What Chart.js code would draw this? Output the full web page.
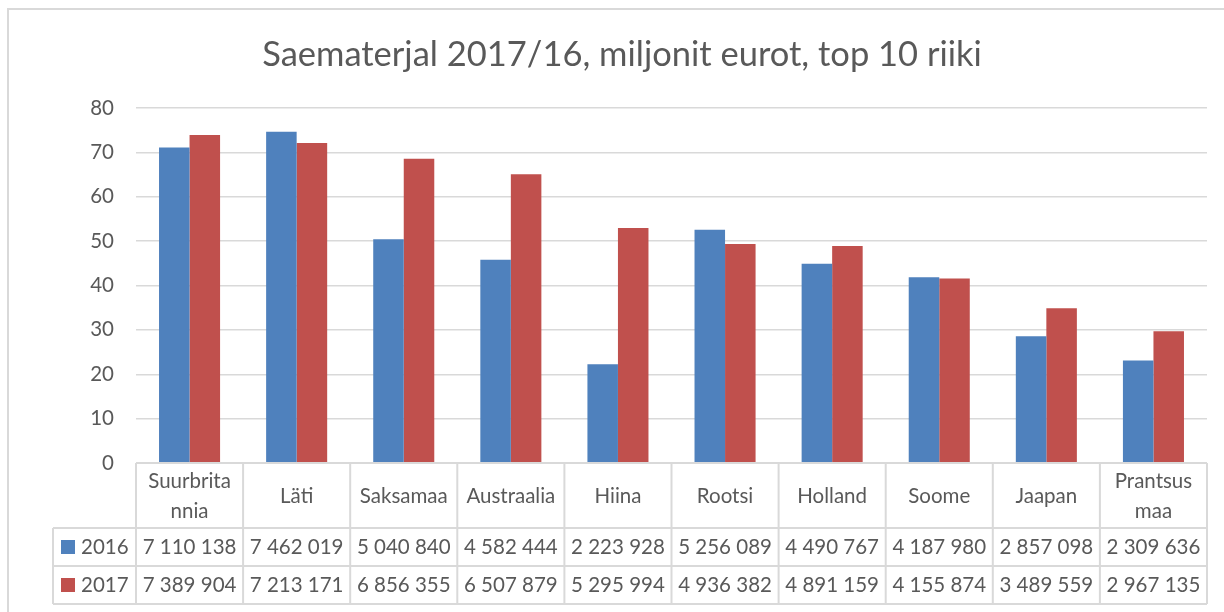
<!DOCTYPE html>
<html>
<head>
<meta charset="utf-8">
<script src="https://cdn.jsdelivr.net/npm/chart.js@4/dist/chart.umd.min.js"></script>
<style>
  html, body { margin: 0; padding: 0; background: #ffffff; }
  #wrap { position: relative; width: 1224px; height: 612px; }
</style>
</head>
<body>
<div id="wrap"><canvas id="c" width="1224" height="612"></canvas></div>
<script>
const chartTitle = "Saematerjal 2017/16, miljonit eurot, top 10 riiki";
const categories = [["Suurbrita", "nnia"], "Läti", "Saksamaa", "Austraalia", "Hiina", "Rootsi", "Holland", "Soome", "Jaapan", ["Prantsus", "maa"]];
const seriesNames = ["2016", "2017"];
const values2016 = [7110138, 7462019, 5040840, 4582444, 2223928, 5256089, 4490767, 4187980, 2857098, 2309636];
const values2017 = [7389904, 7213171, 6856355, 6507879, 5295994, 4936382, 4891159, 4155874, 3489559, 2967135];
const tableText2016 = ["7 110 138", "7 462 019", "5 040 840", "4 582 444", "2 223 928", "5 256 089", "4 490 767", "4 187 980", "2 857 098", "2 309 636"];
const tableText2017 = ["7 389 904", "7 213 171", "6 856 355", "6 507 879", "5 295 994", "4 936 382", "4 891 159", "4 155 874", "3 489 559", "2 967 135"];
const yTicks = [0, 10, 20, 30, 40, 50, 60, 70, 80];

const colors = ["#4F81BD", "#C0504D"];
const textColor = "#595959";
const lineColor = "#D9D9D9";
const FONT = "Lato, 'Open Sans', sans-serif";

const tablePlugin = {
  id: "dataTable",
  beforeDraw(chart) {
    const ctx = chart.ctx;
    ctx.save();
    ctx.fillStyle = "#ffffff";
    ctx.fillRect(0, 0, chart.width, chart.height);
    ctx.strokeStyle = lineColor;
    ctx.lineWidth = 2;
    ctx.beginPath();
    ctx.moveTo(8, 612);
    ctx.lineTo(8, 9);
    ctx.lineTo(1224, 9);
    ctx.stroke();
    // title
    ctx.fillStyle = textColor;
    ctx.font = "34.5px " + FONT;
    ctx.textAlign = "center";
    ctx.textBaseline = "middle";
    ctx.fillText(chartTitle, 622, 55);
    ctx.restore();
  },
  afterDraw(chart) {
    const ctx = chart.ctx;
    const x = chart.scales.x;
    const area = chart.chartArea;
    const n = categories.length;
    const colW = (area.right - area.left) / n;
    const top = area.bottom;
    const hdrBottom = top + 65;
    const r1Bottom = hdrBottom + 38;
    const r2Bottom = r1Bottom + 38;
    const legLeft = 53;
    ctx.save();
    ctx.strokeStyle = lineColor;
    ctx.lineWidth = 2;
    ctx.beginPath();
    ctx.moveTo(area.left, top); ctx.lineTo(area.right, top);
    ctx.moveTo(legLeft, hdrBottom); ctx.lineTo(area.right, hdrBottom);
    ctx.moveTo(legLeft, r1Bottom); ctx.lineTo(area.right, r1Bottom);
    ctx.moveTo(legLeft, r2Bottom); ctx.lineTo(area.right, r2Bottom);
    ctx.moveTo(legLeft, hdrBottom); ctx.lineTo(legLeft, r2Bottom);
    for (let i = 0; i <= n; i++) {
      const xx = area.left + i * colW;
      ctx.moveTo(xx, top); ctx.lineTo(xx, r2Bottom);
    }
    ctx.stroke();

    ctx.fillStyle = textColor;
    ctx.font = "20.5px " + FONT;
    ctx.textAlign = "center";
    ctx.textBaseline = "middle";
    for (let i = 0; i < n; i++) {
      const cx = x.getPixelForValue(i);
      const lab = categories[i];
      if (Array.isArray(lab)) {
        ctx.fillText(lab[0], cx, top + 18);
        ctx.fillText(lab[1], cx, top + 48);
      } else {
        ctx.fillText(lab, cx, top + 33);
      }
      ctx.fillText(tableText2016[i], cx, hdrBottom + 19);
      ctx.fillText(tableText2017[i], cx, r1Bottom + 19);
    }
    const rows = [hdrBottom, r1Bottom];
    for (let s = 0; s < 2; s++) {
      const cy = rows[s] + 19;
      ctx.fillStyle = colors[s];
      ctx.fillRect(61, cy - 7, 14, 14);
      ctx.fillStyle = textColor;
      ctx.textAlign = "left";
      ctx.fillText(seriesNames[s], 81, cy);
    }
    ctx.restore();
  }
};

new Chart(document.getElementById("c"), {
  type: "bar",
  data: {
    labels: categories,
    datasets: [
      { label: seriesNames[0], data: values2016.map(v => v / 100000), backgroundColor: colors[0], borderWidth: 0, categoryPercentage: 0.57, barPercentage: 1.0 },
      { label: seriesNames[1], data: values2017.map(v => v / 100000), backgroundColor: colors[1], borderWidth: 0, categoryPercentage: 0.57, barPercentage: 1.0 }
    ]
  },
  options: {
    responsive: false,
    animation: false,
    layout: { padding: { left: 0, right: 17, top: 108, bottom: 149 } },
    plugins: { legend: { display: false }, tooltip: { enabled: false }, title: { display: false } },
    scales: {
      x: { display: false, offset: true, grid: { display: false } },
      y: {
        min: 0, max: 80,
        afterFit(scale) { scale.width = 136; },
        afterBuildTicks(scale) { scale.ticks = yTicks.map(v => ({ value: v })); },
        border: { display: false },
        grid: { color: lineColor, lineWidth: 1.5, drawTicks: false },
        ticks: { color: textColor, font: { family: FONT, size: 20.5 }, padding: 22 }
      }
    }
  },
  plugins: [tablePlugin]
});
</script>
</body>
</html>
